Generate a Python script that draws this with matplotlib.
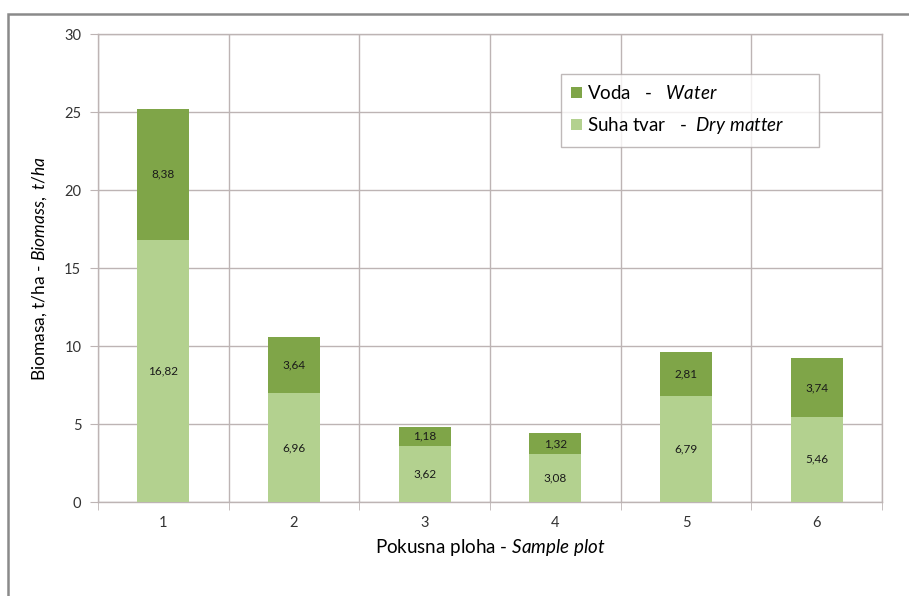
import numpy as np
import matplotlib
matplotlib.use("Agg")
import matplotlib.pyplot as plt
from matplotlib.patches import Rectangle

plt.rcParams['font.family'] = ['Lato', 'DejaVu Sans']
plt.rcParams['mathtext.fontset'] = 'custom'
plt.rcParams['mathtext.rm'] = 'Lato'
plt.rcParams['mathtext.it'] = 'Lato:italic'

plots = ['1', '2', '3', '4', '5', '6']
dry = [16.82, 6.96, 3.62, 3.08, 6.79, 5.46]
water = [8.38, 3.64, 1.18, 1.32, 2.81, 3.74]
yticks = [0, 5, 10, 15, 20, 25, 30]

c_water = '#7fa548'
c_dry = '#b3d18f'
c_grid = '#bdb4b4'

fig = plt.figure(figsize=(9.09, 5.96), dpi=100)
# outer frame of the picture
fig.patches.append(Rectangle((8/909, -0.05), 1.1, 1 - 14/596 + 0.05,
                             transform=fig.transFigure, fill=False,
                             edgecolor='#8a8a8a', linewidth=1.8))

ax = fig.add_axes([98/909, 1 - 502/596, 784/909, 468/596])
x = np.arange(len(plots))
b1 = ax.bar(x, dry, width=0.4, color=c_dry, zorder=3,
            label='$\\text{Suha tvar   -  }\\mathit{Dry\\ matter}\\text{      }$')
b2 = ax.bar(x, water, width=0.4, bottom=dry, color=c_water, zorder=3,
            label='$\\text{Voda   -   }\\mathit{Water}$')

for i in range(len(plots)):
    ax.text(x[i], dry[i] / 2, ('%.2f' % dry[i]).replace('.', ','), ha='center', va='center',
            fontsize=8.5, color='#1a1a1a', zorder=4)
    ax.text(x[i], dry[i] + water[i] / 2, ('%.2f' % water[i]).replace('.', ','), ha='center',
            va='center', fontsize=8.5, color='#1a1a1a', zorder=4)

ax.set_xlim(-0.5, len(plots) - 0.5)
ax.set_ylim(0, 30)
ax.set_yticks(yticks)
ax.set_xticks(x)
ax.set_xticklabels(plots)
ax.set_xticks(np.arange(-0.5, len(plots)), minor=True)
ax.tick_params(axis='x', which='major', length=0, labelsize=10.5, pad=10)
ax.tick_params(axis='x', which='minor', length=6, color=c_grid, direction='out')
ax.tick_params(axis='y', length=6, color=c_grid, labelsize=10.5, pad=6)
for lab in ax.get_yticklabels() + ax.get_xticklabels():
    lab.set_color('#333333')
ax.grid(True, which='minor', axis='x', color=c_grid, linewidth=1, zorder=0)
ax.grid(True, which='major', axis='y', color=c_grid, linewidth=1, zorder=0)
for s in ax.spines.values():
    s.set_color(c_grid)
    s.set_linewidth(1)

ax.set_xlabel('$\\text{Pokusna ploha - }\\mathit{Sample\\ plot}$', fontsize=13.5, labelpad=5)
ax.set_ylabel('$\\text{Biomasa, t/ha - }\\mathit{Biomass,\\ t/ha}$', fontsize=12.5, labelpad=11)

leg = ax.legend(handles=[b2, b1], loc='upper left', bbox_to_anchor=(0.5906, 0.9145),
                fontsize=13.5, frameon=True, fancybox=False, handlelength=0.55,
                handleheight=0.55, handletextpad=0.3, labelspacing=0.7,
                borderpad=0.55, borderaxespad=0)
leg.get_frame().set_edgecolor('#b0a8a8')
leg.get_frame().set_linewidth(1)

fig.savefig('out.png', dpi=100)
